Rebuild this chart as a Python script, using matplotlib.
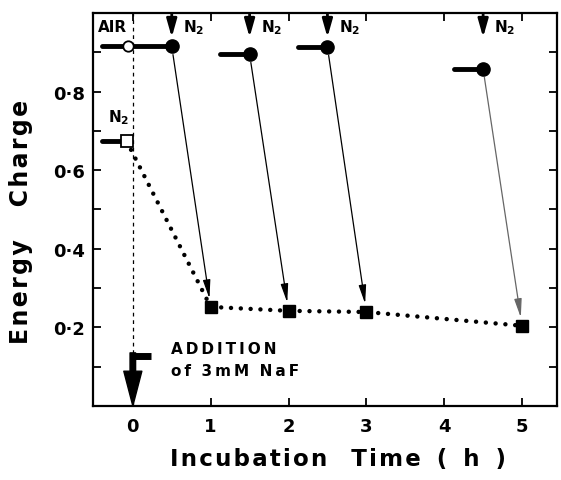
import numpy as np
import matplotlib

matplotlib.use("Agg")
import matplotlib.pyplot as plt

# dotted curve: energy charge after NaF addition (start from open square)
naf_time = [-0.08, 1, 2, 3, 5]
naf_charge = [0.674, 0.252, 0.242, 0.239, 0.204]

# filled circles: samples switched to N2 at these times
n2_time = [0.5, 1.5, 2.5, 4.5]
n2_charge = [0.915, 0.895, 0.913, 0.857]

# open circle (AIR) and open square (N2) at time zero
air_time, air_charge = -0.06, 0.915
sq_time, sq_charge = -0.08, 0.674

ylabels = ["0·2", "0·4", "0·6", "0·8"]


def spaced(s, sp="\u2009", gap=" "):
    # loose letter spacing like the original typesetting
    return gap.join(sp.join(w) for w in s.split(" "))


plt.rcParams["font.family"] = ["DejaVu Sans"]
plt.rcParams["font.weight"] = "bold"

fig = plt.figure(figsize=(5.61, 4.81), dpi=100)
ax = fig.add_axes([0.166, 0.154, 0.827, 0.817])
ax.set_xlim(-0.51, 5.45)
ax.set_ylim(0, 1.0)

for s in ax.spines.values():
    s.set_linewidth(1.6)

ax.set_xticks(range(6))
ax.set_xticklabels([str(i) for i in range(6)], fontsize=13, fontweight="bold")
ax.set_yticks([0.2, 0.4, 0.6, 0.8])
ax.set_yticklabels(ylabels, fontsize=13, fontweight="bold")
ax.set_yticks(np.arange(0.1, 1.0, 0.2), minor=True)
ax.tick_params(axis="both", which="both", direction="in", length=6, width=1.3)
ax.tick_params(axis="x", top=True, pad=8)
ax.tick_params(axis="y", which="both", right=True, pad=6)

# vertical dashed line at time zero
ax.axvline(0, color="k", lw=0.9, ls=(0, (3, 3)), zorder=1)

# dotted NaF curve
ax.plot(naf_time, naf_charge, color="k", lw=3.2, ls=(0, (0.01, 2.2)),
        dash_capstyle="round", zorder=2)
ax.plot(naf_time[1:], naf_charge[1:], "s", color="k", ms=8.5, zorder=4)

# thick bars leading into circles / square
bar_len = 0.38
ax.plot([air_time - 0.33, n2_time[0]], [air_charge, air_charge], color="k",
        lw=3.5, solid_capstyle="round", zorder=3)
for t, c in zip(n2_time[1:], n2_charge[1:]):
    ax.plot([t - bar_len, t], [c, c], color="k", lw=3.5,
            solid_capstyle="round", zorder=3)
ax.plot([sq_time - 0.31, sq_time], [sq_charge, sq_charge], color="k",
        lw=3.5, solid_capstyle="round", zorder=3)

ax.plot(n2_time, n2_charge, "o", color="k", ms=9.5, zorder=4)
ax.plot(air_time, air_charge, "o", mfc="white", mec="k", mew=1.3, ms=7.5, zorder=5)
ax.plot(sq_time, sq_charge, "s", mfc="white", mec="k", mew=1.3, ms=8, zorder=5)

# thin arrows from each circle to its square
for i, (t, c) in enumerate(zip(n2_time, n2_charge)):
    col = "#666666" if i == 3 else "k"
    ax.annotate("", xy=(naf_time[i + 1], naf_charge[i + 1]), xytext=(t, c),
                arrowprops=dict(arrowstyle="-|>,head_width=0.16,head_length=0.8",
                                lw=0.9, color=col, shrinkA=6, shrinkB=6,
                                mutation_scale=14), zorder=3)

# N2 arrows at top
for t in n2_time:
    ax.annotate("", xy=(t, 0.938), xytext=(t, 0.997),
                arrowprops=dict(arrowstyle="-|>,head_width=0.17,head_length=0.6",
                                lw=2, color="k", shrinkA=0, shrinkB=0,
                                mutation_scale=18))
    ax.annotate(r"$\mathbf{N_2}$", xy=(t, 0.995), xytext=(8, -2),
                textcoords="offset points", ha="left", va="top", fontsize=11)

ax.text(-0.45, 0.965, "AIR", fontsize=11, fontweight="bold", ha="left", va="center")
ax.text(-0.32, 0.735, r"$\mathbf{N_2}$", fontsize=11, ha="left", va="center")

# NaF addition arrow
ax.annotate("", xy=(0, 0.0), xytext=(0, 0.135),
            arrowprops=dict(arrowstyle="simple,head_length=1.25,head_width=0.65,tail_width=0.2",
                            color="k", shrinkA=0, shrinkB=0, mutation_scale=20), zorder=5)
ax.plot([-0.04, 0.23], [0.127, 0.127], color="k", lw=5, solid_capstyle="butt", zorder=5)
ax.text(0.49, 0.145, spaced("ADDITION"), fontsize=11, fontweight="bold",
        ha="left", va="center")
ax.text(0.49, 0.089, spaced("of 3mM NaF", gap="  "), fontsize=11,
        fontweight="bold", ha="left", va="center")

xl = spaced("Incubation", "\u200a") + "   " + spaced("Time", "\u200a") + "  (  h  )"
ax.set_xlabel(xl, fontsize=16.5, fontweight="bold")
ax.xaxis.set_label_coords(0.527, -0.105)
ax.set_ylabel(spaced("Energy", "\u200a") + "    " + spaced("Charge", "\u200a"),
              fontsize=17, fontweight="bold")
ax.yaxis.set_label_coords(-0.13, 0.47)

fig.savefig("out.png", dpi=100)
